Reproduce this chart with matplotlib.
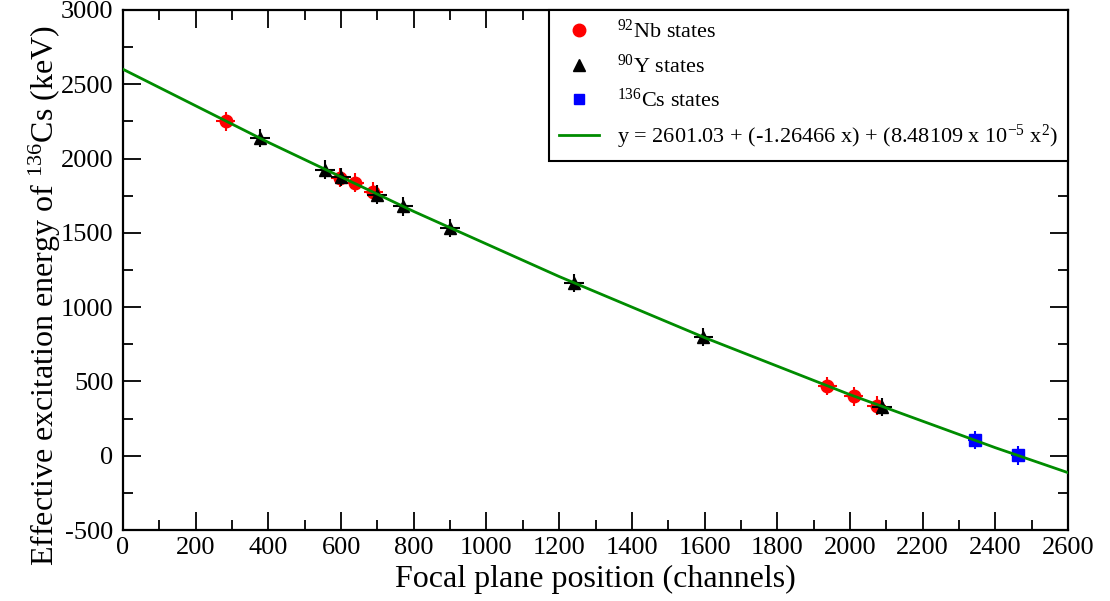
"""Focal-plane calibration: effective excitation energy vs channel."""

import matplotlib
matplotlib.use("Agg")
import matplotlib.pyplot as plt
from matplotlib.lines import Line2D
from matplotlib.ticker import MultipleLocator

plt.rcParams["font.family"] = ["Liberation Serif", "DejaVu Serif"]
plt.rcParams["mathtext.fontset"] = "custom"
plt.rcParams["mathtext.rm"] = "Liberation Serif"
plt.rcParams["mathtext.it"] = "Liberation Serif:italic"
plt.rcParams["axes.unicode_minus"] = False

# 92Nb states
nb_x = [283, 597, 638, 688, 1937, 2010, 2074]
nb_y = [2250, 1872, 1838, 1778, 468, 400, 338]
nb_xerr = [26, 26, 26, 26, 26, 26, 26]
nb_yerr = [62, 62, 62, 62, 62, 62, 62]

# 90Y states
y_x = [377, 556, 600, 699, 770, 900, 1241, 1597, 2088]
y_y = [2138, 1926, 1874, 1758, 1678, 1533, 1164, 798, 328]
y_xerr = [27, 27, 27, 27, 27, 27, 27, 27, 27]
y_yerr = [62, 62, 62, 62, 62, 62, 62, 62, 62]

# 136Cs states
cs_x = [2344, 2462]
cs_y = [104, 2]
cs_xerr = [20, 20]
cs_yerr = [62, 62]

# quadratic fit line
fit_x = [0, 400, 800, 1200, 1600, 2000, 2400, 2600]
fit_y = [2601, 2109, 1644, 1206, 795, 411, 54, -114]
fit_label = r"y = 2601.03 + (-1.26466 x) + (8.48109 x 10$^{-5}$ x$^{2}$)"

fig = plt.figure(figsize=(11.1, 6.01), dpi=100)
ax = fig.add_axes([0.1108, 0.1181, 0.8514, 0.8653])

ax.errorbar(nb_x, nb_y, xerr=nb_xerr, yerr=nb_yerr, fmt="o", color="red",
            markersize=9, elinewidth=1.5, capsize=0, zorder=3)
ax.errorbar(y_x, y_y, xerr=y_xerr, yerr=y_yerr, fmt="^", color="black",
            markersize=9, elinewidth=1.5, capsize=0, zorder=4)
ax.errorbar(cs_x, cs_y, xerr=cs_xerr, yerr=cs_yerr, fmt="s", color="blue",
            markersize=8, elinewidth=1.5, capsize=0, zorder=3)
ax.plot(fit_x, fit_y, color="#008c00", linewidth=2, zorder=5)

ax.set_xlim(0, 2600)
ax.set_ylim(-500, 3000)
ax.xaxis.set_major_locator(MultipleLocator(200))
ax.xaxis.set_minor_locator(MultipleLocator(100))
ax.yaxis.set_major_locator(MultipleLocator(500))
ax.yaxis.set_minor_locator(MultipleLocator(250))
ax.tick_params(which="both", direction="in", top=True, right=True,
               labelsize=19, width=1.3)
ax.tick_params(which="major", length=13)
ax.tick_params(which="minor", length=7)
ax.tick_params(axis="x", pad=5)
ax.tick_params(axis="y", pad=7)
for s in ax.spines.values():
    s.set_linewidth(1.6)

ax.set_xlabel("Focal plane position (channels)", fontsize=23, labelpad=4)
ax.set_ylabel(r"Effective excitation energy of $^{136}$Cs (keV)", fontsize=23)
ax.yaxis.set_label_coords(-0.064, 0.45)

# legend shows bare markers, no error bars
handles = [
    Line2D([], [], ls="none", marker="o", color="red", markersize=9),
    Line2D([], [], ls="none", marker="^", color="black", markersize=8),
    Line2D([], [], ls="none", marker="s", color="blue", markersize=7),
    Line2D([], [], color="#008c00", linewidth=2),
]
labels = [r"$^{92}$Nb states", r"$^{90}$Y states", r"$^{136}$Cs states",
          fit_label]
leg = ax.legend(handles, labels, loc="upper right", borderaxespad=0,
                fontsize=16, fancybox=False, framealpha=1, edgecolor="black",
                handlelength=1.8, handletextpad=0.8, labelspacing=0.5,
                borderpad=0.45)
leg.get_frame().set_linewidth(1.5)

fig.savefig("out.png", dpi=100)
